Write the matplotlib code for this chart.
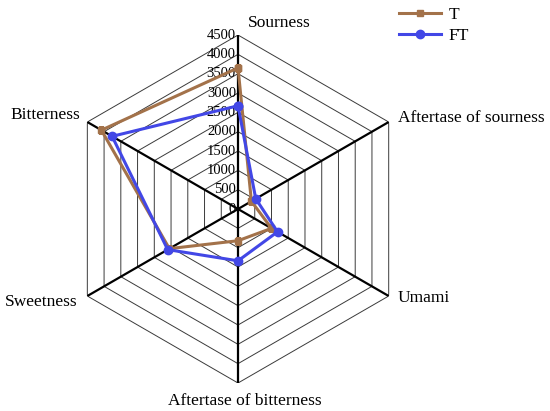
import numpy as np
import matplotlib.pyplot as plt

plt.rcParams['font.family'] = ['Liberation Serif', 'DejaVu Serif']

# categories, clockwise from top
categories = ["Sourness", "Aftertase of sourness", "Umami",
              "Aftertase of bitterness", "Sweetness", "Bitterness"]
t_values = [3650, 400, 1000, 820, 2050, 4080]
ft_values = [2670, 530, 1180, 1340, 2100, 3760]
r_ticks = [0, 500, 1000, 1500, 2000, 2500, 3000, 3500, 4000, 4500]
r_max = 4500

# label offsets in px from the outer vertex (dx, dy, ha, va)
label_pos = [(10, 12, 'left', 'center'),
             (9, 4, 'left', 'center'),
             (9, -2, 'left', 'center'),
             (7, -18, 'center', 'center'),
             (-10, -6, 'right', 'center'),
             (-7, 7, 'right', 'center')]

fig = plt.figure(figsize=(5.5, 4.11), dpi=100)
ax = fig.add_axes([0.1164, 0.0681, 0.6327, 0.8467], projection='polar')
ax.set_theta_offset(np.pi / 2)
ax.set_theta_direction(-1)
ax.set_ylim(0, r_max)
ax.grid(False)
ax.spines['polar'].set_visible(False)
ax.set_xticks([])
ax.set_yticks([])
ax.patch.set_alpha(0)

n = len(categories)
theta = np.arange(n) * 2 * np.pi / n
theta_closed = np.append(theta, theta[0])

# hexagon rings
for r in r_ticks[1:]:
    ax.plot(theta_closed, [r] * (n + 1), color='#3a3a3a', lw=0.7, zorder=1)

# spokes
for th in theta:
    ax.plot([th, th], [0, r_max], color='black', lw=1.6, zorder=2)

# radial tick labels along the top spoke
for r in r_ticks:
    ax.annotate(str(r), xy=(0, r), xytext=(-1.5, 0), textcoords='offset points',
                ha='right', va='center', fontsize=10.5, zorder=3)

# category labels
for th, lab, (dx, dy, ha, va) in zip(theta, categories, label_pos):
    ax.annotate(lab, xy=(th, r_max), xytext=(dx * 0.72, dy * 0.72),
                textcoords='offset points', ha=ha, va=va, fontsize=12.5)

ax.plot(theta_closed, t_values + t_values[:1], color='#A3724A', lw=2.2,
        marker='s', markersize=5, label='T', zorder=4)
ax.plot(theta_closed, ft_values + ft_values[:1], color='#4247E6', lw=2.2,
        marker='o', markersize=6, label='FT', zorder=5)

fig.legend(loc='upper left', bbox_to_anchor=(0.7255, 0.983), frameon=False,
           fontsize=12.5, handlelength=2.4, handletextpad=0.45,
           labelspacing=0.25, borderpad=0, borderaxespad=0)

fig.savefig('out.png', dpi=100)
